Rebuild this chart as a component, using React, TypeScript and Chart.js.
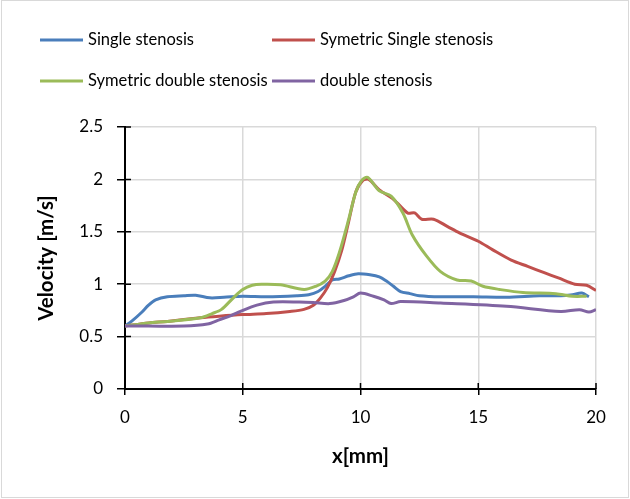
import React, { useEffect, useRef } from "react";
import { Chart, registerables } from "chart.js";

Chart.register(...registerables);

const seriesNames = ["Single stenosis", "Symetric Single stenosis", "Symetric double stenosis", "double stenosis"];
const seriesColors = ["#4A7EBB", "#C0504D", "#9BBB59", "#8064A2"];

const singleX = [0, 0.3, 0.7, 1.0, 1.3, 1.8, 2.5, 3.0, 3.6, 4.2, 5.0, 6.0, 7.3, 7.8, 8.2, 8.5, 8.8, 9.1, 9.5, 9.9, 10.4, 10.8, 11.1, 11.4, 11.7, 12.1, 12.5, 13.4, 14.8, 16.2, 17.6, 18.5, 19.0, 19.4, 19.7];
const singleY = [0.6, 0.65, 0.73, 0.8, 0.85, 0.88, 0.89, 0.895, 0.87, 0.875, 0.885, 0.88, 0.89, 0.9, 0.93, 0.98, 1.04, 1.05, 1.08, 1.10, 1.09, 1.07, 1.03, 0.98, 0.93, 0.91, 0.89, 0.88, 0.88, 0.875, 0.89, 0.89, 0.9, 0.915, 0.88];

const symSingleX = [0, 1, 1.8, 3.2, 4.0, 5.0, 6.0, 7.0, 7.6, 8.0, 8.3, 8.6, 8.9, 9.2, 9.5, 9.8, 10.1, 10.35, 10.8, 11.4, 12.0, 12.3, 12.6, 13.1, 13.7, 14.2, 15.0, 15.6, 16.4, 17.1, 17.8, 18.4, 19.1, 19.6, 20.0];
const symSingleY = [0.6, 0.63, 0.645, 0.68, 0.695, 0.71, 0.72, 0.74, 0.76, 0.80, 0.87, 0.97, 1.12, 1.32, 1.6, 1.88, 1.99, 2.0, 1.9, 1.81, 1.68, 1.68, 1.62, 1.62, 1.55, 1.49, 1.41, 1.33, 1.23, 1.17, 1.11, 1.06, 1.0, 0.99, 0.94];

const symDoubleX = [0, 1, 1.8, 3.2, 3.7, 4.1, 4.6, 5.0, 5.4, 5.8, 6.6, 7.6, 8.1, 8.5, 8.8, 9.1, 9.5, 9.8, 10.05, 10.3, 10.8, 11.3, 11.8, 12.2, 12.8, 13.4, 14.1, 14.7, 15.2, 15.9, 16.9, 18.3, 19.0, 19.6];
const symDoubleY = [0.6, 0.63, 0.645, 0.68, 0.72, 0.76, 0.87, 0.95, 0.99, 1.0, 0.995, 0.95, 0.98, 1.03, 1.12, 1.3, 1.62, 1.88, 1.99, 2.02, 1.89, 1.84, 1.68, 1.47, 1.27, 1.12, 1.04, 1.03, 0.98, 0.95, 0.92, 0.91, 0.885, 0.885];

const doubleX = [0, 1, 2.5, 3.5, 4.0, 4.5, 4.9, 5.6, 6.3, 7.4, 8.0, 8.7, 9.3, 9.7, 10.0, 10.55, 11.0, 11.3, 11.7, 13.4, 16.2, 18.5, 19.3, 19.7, 20.0];
const doubleY = [0.6, 0.6, 0.6, 0.62, 0.66, 0.70, 0.74, 0.80, 0.83, 0.83, 0.825, 0.815, 0.845, 0.88, 0.915, 0.885, 0.85, 0.815, 0.835, 0.82, 0.79, 0.74, 0.757, 0.735, 0.757];

const xTitle = "x[mm]";
const yTitle = "Velocity [m/s]";

const FONT = "Lato, 'Open Sans', sans-serif";

function pts(xs: number[], ys: number[]) {
  return xs.map((x, i) => ({ x, y: ys[i] }));
}

const decorPlugin = {
  id: "decor",
  afterDraw(chart: any) {
    const ctx = chart.ctx;
    ctx.save();
    // outer border
    ctx.strokeStyle = "#D9D9D9";
    ctx.lineWidth = 1;
    ctx.strokeRect(1.5, 0.5, chart.width - 3, chart.height - 2);
    // inward half of crossing tick marks
    const { x, y } = chart.scales;
    ctx.strokeStyle = "#000";
    ctx.lineWidth = 1.5;
    ctx.beginPath();
    x.ticks.forEach((_t: any, i: number) => {
      const px = x.getPixelForTick(i);
      ctx.moveTo(px, x.top);
      ctx.lineTo(px, x.top - 6);
    });
    y.ticks.forEach((_t: any, i: number) => {
      const py = y.getPixelForTick(i);
      ctx.moveTo(y.right, py);
      ctx.lineTo(y.right + 6, py);
    });
    ctx.stroke();
    // legend
    const cols = [40, 272];
    const rows = [40, 81];
    ctx.font = `16.5px ${FONT}`;
    ctx.textBaseline = "middle";
    ctx.textAlign = "left";
    seriesNames.forEach((name, i) => {
      const cx = cols[i % 2];
      const cy = rows[Math.floor(i / 2)];
      ctx.strokeStyle = seriesColors[i];
      ctx.lineWidth = 3;
      ctx.beginPath();
      ctx.moveTo(cx, cy);
      ctx.lineTo(cx + 43, cy);
      ctx.stroke();
      ctx.fillStyle = "#000";
      ctx.fillText(name, cx + 48, cy);
    });
    ctx.restore();
  },
};

export default function App() {
  const ref = useRef<HTMLCanvasElement>(null);
  useEffect(() => {
    document.body.style.margin = "0";
    const xs = [singleX, symSingleX, symDoubleX, doubleX];
    const ys = [singleY, symSingleY, symDoubleY, doubleY];
    const chart = new Chart(ref.current!, {
      type: "line",
      data: {
        datasets: seriesNames.map((name, i) => ({
          label: name,
          data: pts(xs[i], ys[i]),
          borderColor: seriesColors[i],
          backgroundColor: seriesColors[i],
          borderWidth: 3,
          pointRadius: 0,
          tension: 0.3,
          fill: false,
          order: 4 - i,
        })),
      },
      options: {
        animation: false,
        responsive: false,
        layout: { padding: { top: 127, right: 34, bottom: 28, left: 0 } },
        plugins: { legend: { display: false }, tooltip: { enabled: false } },
        scales: {
          x: {
            type: "linear",
            min: 0,
            max: 20,
            ticks: { stepSize: 5, color: "#000", font: { family: FONT, size: 17 }, padding: 12, callback: (v: any) => `${v}` },
            grid: { color: "#D9D9D9", lineWidth: 1.5, tickColor: "#000", tickLength: 6 },
            border: { color: "#000", width: 2 },
            title: { display: true, text: xTitle, color: "#000", font: { family: FONT, size: 20.5, weight: "bold" }, padding: { top: 0, bottom: 2 } },
            afterFit: (s: any) => { s.height = 82; },
          },
          y: {
            min: 0,
            max: 2.5,
            ticks: { stepSize: 0.5, color: "#000", font: { family: FONT, size: 17 }, padding: 14, callback: (v: any) => `${v}` },
            grid: { color: "#D9D9D9", lineWidth: 1.5, tickColor: "#000", tickLength: 8 },
            border: { color: "#000", width: 2 },
            title: { display: true, text: yTitle, color: "#000", font: { family: FONT, size: 20.5, weight: "bold" }, padding: { top: 34, bottom: 0 } },
            afterFit: (s: any) => { s.width = 125; },
          },
        },
      },
      plugins: [decorPlugin],
    });
    return () => chart.destroy();
  }, []);
  return <canvas ref={ref} width={630} height={499} style={{ display: "block" }} />;
}
